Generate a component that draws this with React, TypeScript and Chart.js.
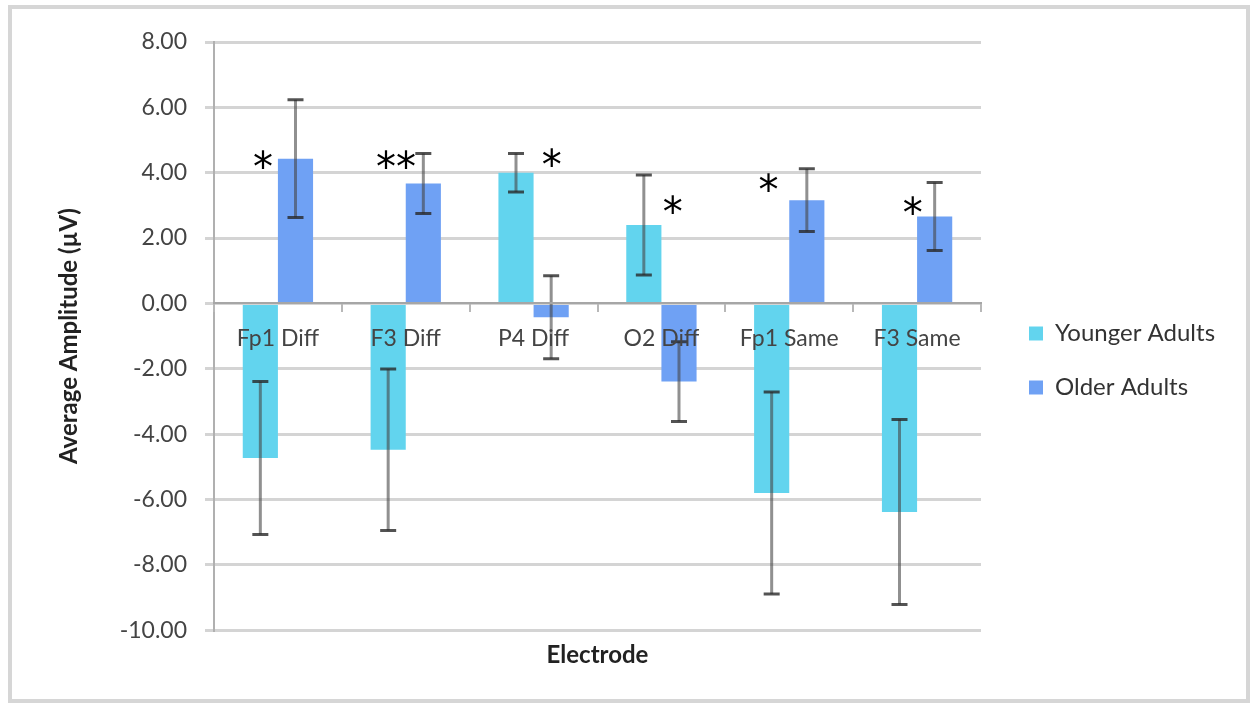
import React, { useEffect, useRef } from 'react';
import { Chart, registerables } from 'chart.js';

Chart.register(...registerables);

const categories = ['Fp1 Diff', 'F3 Diff', 'P4 Diff', 'O2 Diff', 'Fp1 Same', 'F3 Same'];
const youngerValues = [-4.73, -4.48, 4.0, 2.4, -5.8, -6.38];
const youngerErrors = [2.34, 2.47, 0.59, 1.53, 3.09, 2.83];
const olderValues = [4.43, 3.67, -0.42, -2.39, 3.16, 2.66];
const olderErrors = [1.8, 0.92, 1.27, 1.22, 0.96, 1.04];

const yTickMin = -10;
const yTickMax = 8;
const yTickStep = 2;

// significance markers: category index, offset within category (category units), y value, text
const starCategory = [0, 1, 2, 3, 4, 5];
const starOffset = [-0.117, -0.076, 0.142, 0.089, -0.162, -0.034];
const starValue = [4.41, 4.41, 4.48, 3.02, 3.71, 3.0];
const starText = ['*', '**', '*', '*', '*', '*'];

const FONT = 'Lato';
const LEGEND_WIDTH = 230;

export default function App() {
  const ref = useRef<HTMLCanvasElement>(null);

  useEffect(() => {
    if (!ref.current) return;

    const legendWidth = {
      id: 'legendWidth',
      beforeLayout(chart: any) {
        const lg = chart.legend;
        if (lg && !lg.__patched) {
          const orig = lg.fit;
          lg.fit = function (this: any) {
            orig.call(this);
            this.width = LEGEND_WIDTH;
          };
          lg.__patched = true;
        }
      },
    };

    const errorBars = {
      id: 'errorBars',
      afterDatasetsDraw(chart: any) {
        const ctx = chart.ctx;
        const ys = chart.scales.y;
        const errs = [youngerErrors, olderErrors];
        chart.data.datasets.forEach((ds: any, di: number) => {
          const meta = chart.getDatasetMeta(di);
          meta.data.forEach((bar: any, i: number) => {
            const v = ds.data[i];
            const e = errs[di][i];
            const x = bar.x;
            const top = ys.getPixelForValue(v + e);
            const bot = ys.getPixelForValue(v - e);
            ctx.save();
            ctx.lineCap = 'butt';
            ctx.strokeStyle = 'rgba(70,70,70,0.6)';
            ctx.lineWidth = 3;
            ctx.beginPath();
            ctx.moveTo(x, top);
            ctx.lineTo(x, bot);
            ctx.stroke();
            ctx.strokeStyle = 'rgba(40,40,40,0.8)';
            ctx.beginPath();
            ctx.moveTo(x - 8, top);
            ctx.lineTo(x + 8, top);
            ctx.moveTo(x - 8, bot);
            ctx.lineTo(x + 8, bot);
            ctx.stroke();
            ctx.restore();
          });
        });
      },
    };

    const stars = {
      id: 'stars',
      afterDraw(chart: any) {
        const ctx = chart.ctx;
        const xs = chart.scales.x;
        const ys = chart.scales.y;
        ctx.save();
        ctx.font = '40px "DejaVu Sans"';
        ctx.fillStyle = '#000';
        ctx.textAlign = 'center';
        ctx.textBaseline = 'alphabetic';
        starText.forEach((t, i) => {
          const x = xs.getPixelForValue(starCategory[i] + starOffset[i]);
          const cy = ys.getPixelForValue(starValue[i]);
          const m = ctx.measureText(t);
          const base = cy + (m.actualBoundingBoxAscent - m.actualBoundingBoxDescent) / 2;
          ctx.fillText(t, x, base);
        });
        ctx.restore();
      },
    };

    const chart = new Chart(ref.current, {
      type: 'bar',
      data: {
        labels: categories,
        datasets: [
          {
            label: 'Younger Adults',
            data: youngerValues,
            backgroundColor: '#62d4ee',
            borderWidth: 0,
          },
          {
            label: 'Older Adults',
            data: olderValues,
            backgroundColor: '#6fa1f4',
            borderWidth: 0,
          },
        ],
      },
      options: {
        responsive: true,
        maintainAspectRatio: false,
        animation: false,
        layout: { padding: { left: 12, top: 33, right: 17, bottom: 20 } },
        datasets: {
          bar: { categoryPercentage: 0.55, barPercentage: 1 },
        },
        scales: {
          x: {
            position: { y: 0 } as any,
            offset: true,
            grid: {
              drawOnChartArea: false,
              drawTicks: true,
              tickLength: 8,
              color: '#b8b8b8',
              lineWidth: 2,
              offset: true,
              z: 1,
            },
            border: { display: true, color: '#a6a6a6', width: 2, z: 1 },
            ticks: {
              font: { family: FONT, size: 23 },
              color: '#444',
              padding: 13,
              maxRotation: 0,
              autoSkip: false,
              z: 2,
            },
          },
          y: {
            min: yTickMin,
            max: yTickMax,
            ticks: {
              stepSize: yTickStep,
              callback: (v: any) => Number(v).toFixed(2),
              font: { family: FONT, size: 23 },
              color: '#444',
              padding: 18,
            },
            grid: { color: '#d4d4d4', lineWidth: 3, tickLength: 9 },
            border: { color: '#b0b0b0', width: 2 },
            title: {
              display: true,
              text: 'Average Amplitude (µV)',
              font: { family: FONT, size: 24, weight: 'bold' },
              color: '#222',
              padding: { top: 31, bottom: 0 },
            },
            afterFit: (s: any) => {
              s.width = 190;
            },
          },
          y2: {
            position: 'right',
            display: true,
            grid: { display: false },
            border: { display: false },
            ticks: { display: false },
            afterFit: (s: any) => {
              s.width = 18;
            },
          },
        },
        plugins: {
          legend: {
            position: 'right',
            labels: {
              boxWidth: 14,
              boxHeight: 14,
              padding: 30,
              font: { family: FONT, size: 24 },
              color: '#333',
            },
          },
          title: {
            display: true,
            text: 'Electrode',
            position: 'bottom',
            fullSize: false,
            font: { family: FONT, size: 24, weight: 'bold' },
            color: '#222',
            padding: { top: 10.5, bottom: 9.5 },
          },
          tooltip: { enabled: false },
        },
      } as any,
      plugins: [legendWidth, errorBars, stars],
    });

    return () => chart.destroy();
  }, []);

  return (
    <div
      style={{
        position: 'absolute',
        left: 8,
        top: 5,
        width: 1242,
        height: 698,
        boxSizing: 'border-box',
        border: '4px solid #d6d6d6',
        background: '#fff',
      }}
    >
      <div style={{ position: 'relative', width: '100%', height: '100%' }}>
        <canvas ref={ref} />
      </div>
    </div>
  );
}
